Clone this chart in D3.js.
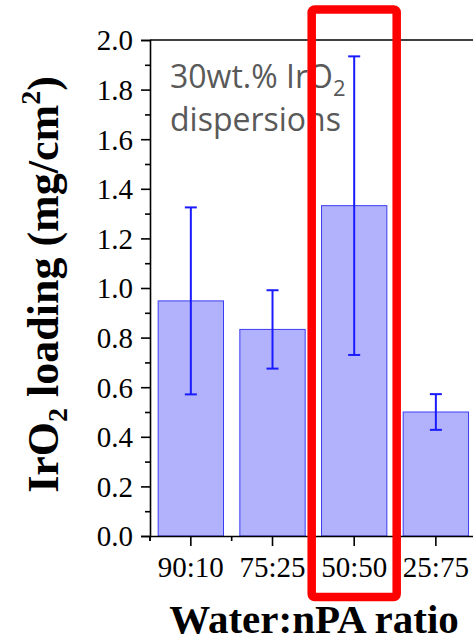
<!DOCTYPE html>
<html>
<head>
<meta charset="utf-8">
<script src="https://d3js.org/d3.v7.min.js"></script>
<style>
  html, body { margin: 0; padding: 0; background: #fff; }
  svg { display: block; }
</style>
</head>
<body>
<svg id="chart" width="473" height="639"></svg>
<script>
const categories = ["90:10", "75:25", "50:50", "25:75"];
const loadings = [0.948, 0.833, 1.332, 0.500];
const errors = [0.377, 0.158, 0.602, 0.072];
const yTickValues = [0.0, 0.2, 0.4, 0.6, 0.8, 1.0, 1.2, 1.4, 1.6, 1.8, 2.0];
const yMinorValues = [0.1, 0.3, 0.5, 0.7, 0.9, 1.1, 1.3, 1.5, 1.7, 1.9];
const highlighted = "50:50";

(function () {
const svg = d3.select("#chart");
const mLeft = 150, mTop = 40, mBottom = 536, mRight = 476.7;

const x = d3.scaleBand().domain(categories).range([mLeft, mRight])
  .paddingInner(0.2).paddingOuter(0.1);
const y = d3.scaleLinear().domain([0, 2]).range([mBottom, mTop]);

const serif = "'Liberation Serif', 'Times New Roman', serif";

// Bars
svg.append("g").selectAll("rect").data(categories).join("rect")
  .attr("x", d => x(d))
  .attr("y", (d, i) => y(loadings[i]))
  .attr("width", x.bandwidth())
  .attr("height", (d, i) => y(0) - y(loadings[i]))
  .attr("fill", "#b2b2fc")
  .attr("stroke", "#3c3cf5")
  .attr("stroke-width", 1);

// Error bars
const eb = svg.append("g").attr("stroke", "#1a1aff").attr("stroke-width", 2);
categories.forEach((c, i) => {
  const cx = x(c) + x.bandwidth() / 2;
  const hi = y(loadings[i] + errors[i]);
  const lo = y(loadings[i] - errors[i]);
  eb.append("line").attr("x1", cx).attr("x2", cx).attr("y1", hi).attr("y2", lo);
  eb.append("line").attr("x1", cx - 6).attr("x2", cx + 6).attr("y1", hi).attr("y2", hi);
  eb.append("line").attr("x1", cx - 6).attr("x2", cx + 6).attr("y1", lo).attr("y2", lo);
});

// Y axis
const yAxis = d3.axisLeft(y).tickValues(yTickValues).tickFormat(d3.format(".1f"))
  .tickSize(9).tickPadding(8);
const yg = svg.append("g").attr("transform", `translate(${mLeft},0)`).call(yAxis);
yg.select(".domain").attr("stroke", "#000").attr("stroke-width", 1.6);
yg.selectAll(".tick line").attr("stroke", "#000").attr("stroke-width", 1.6);
yg.selectAll(".tick text").attr("font-family", serif).attr("font-size", 29)
  .attr("fill", "#000").attr("dy", "0.34em");
const yMinor = d3.axisLeft(y).tickValues(yMinorValues).tickSize(5).tickFormat("");
const ymg = svg.append("g").attr("transform", `translate(${mLeft},0)`).call(yMinor);
ymg.select(".domain").remove();
ymg.selectAll(".tick line").attr("stroke", "#000").attr("stroke-width", 1.6);

// X axis
const xAxis = d3.axisBottom(x).tickSize(10).tickPadding(10).tickSizeOuter(0);
const xg = svg.append("g").attr("transform", `translate(0,${mBottom})`).call(xAxis);
xg.select(".domain").attr("stroke", "#000").attr("stroke-width", 1.6);
xg.selectAll(".tick line").attr("stroke", "#000").attr("stroke-width", 1.6);
xg.selectAll(".tick text").attr("font-family", serif).attr("font-size", 29)
  .attr("fill", "#000");
// minor ticks at category boundaries
const bounds = categories.map(c => x(c) - x.step() * x.paddingInner() / 2)
  .concat([x(categories[categories.length - 1]) + x.bandwidth() + x.step() * x.paddingInner() / 2]);
bounds.unshift(mLeft);
svg.append("g").selectAll("line").data(bounds).join("line")
  .attr("x1", d => d).attr("x2", d => d)
  .attr("y1", mBottom).attr("y2", mBottom + 5)
  .attr("stroke", "#000").attr("stroke-width", 1.6);

// top frame line
svg.append("line").attr("x1", mLeft).attr("x2", 473).attr("y1", mTop).attr("y2", mTop)
  .attr("stroke", "#000").attr("stroke-width", 1.6);

// Axis titles
const yt = svg.append("text")
  .attr("transform", `translate(58,${(82 + 487) / 2}) rotate(-90)`)
  .attr("text-anchor", "middle")
  .attr("font-family", serif).attr("font-weight", "bold").attr("font-size", 44)
  .attr("fill", "#000");
yt.append("tspan").text("IrO");
yt.append("tspan").attr("font-size", 28).attr("dy", 9).text("2");
yt.append("tspan").attr("dy", -9).text(" loading (mg/cm");
yt.append("tspan").attr("font-size", 28).attr("dy", -18).text("2");
yt.append("tspan").attr("dy", 18).text(")");

svg.append("text")
  .attr("x", 314).attr("y", 633)
  .attr("text-anchor", "middle")
  .attr("font-family", serif).attr("font-weight", "bold").attr("font-size", 41)
  .attr("fill", "#000")
  .text("Water:nPA ratio");

// Annotation
const ann = svg.append("text")
  .attr("x", 170).attr("y", 88)
  .attr("font-family", "'Open Sans', sans-serif").attr("font-size", 32)
  .attr("fill", "#595959");
ann.append("tspan").text("30wt.% IrO");
ann.append("tspan").attr("font-size", 22).attr("dy", 8).text("2");
svg.append("text")
  .attr("x", 170).attr("y", 131)
  .attr("font-family", "'Open Sans', sans-serif").attr("font-size", 32)
  .attr("fill", "#595959")
  .text("dispersions");

// Highlight rectangle
const hx = x(highlighted);
svg.append("rect")
  .attr("x", hx + x.bandwidth() / 2 - 42.5)
  .attr("y", 9.5)
  .attr("width", 85)
  .attr("height", 587.5)
  .attr("rx", 3)
  .attr("fill", "none")
  .attr("stroke", "#ff0000")
  .attr("stroke-width", 8.5);
})();
</script>
</body>
</html>
